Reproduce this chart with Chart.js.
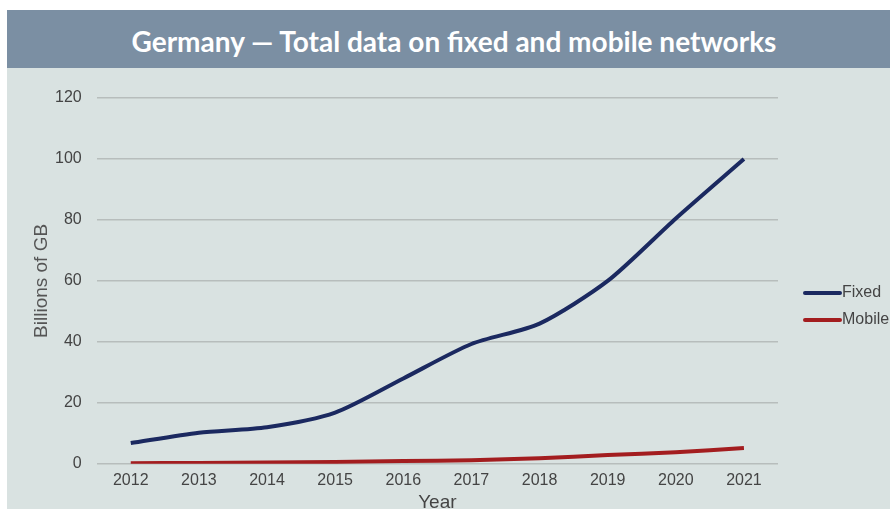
<!DOCTYPE html>
<html>
<head>
<meta charset="utf-8">
<script src="https://cdn.jsdelivr.net/npm/chart.js@4.4.0/dist/chart.umd.min.js"></script>
<style>
  html, body { margin: 0; padding: 0; width: 890px; height: 509px; overflow: hidden; background: #fff; }
  #banner {
    position: absolute; left: 7px; top: 10px; width: 883px; height: 58px;
    background: #7b8fa3; color: #fff; text-align: center; text-indent: 11px;
    font: bold 28px "Lato", "Open Sans", sans-serif; line-height: 62px;
  }
  #wrap { position: absolute; left: 7px; top: 68px; width: 883px; height: 441px; background: #d9e2e1; overflow: hidden; }
  #wrap canvas { position: absolute; left: 0; top: 0; }
</style>
</head>
<body>
<div id="banner">Germany — Total data on fixed and mobile networks</div>
<div id="wrap"><canvas id="chart" width="883" height="470"></canvas></div>
<script>
const years = ['2012', '2013', '2014', '2015', '2016', '2017', '2018', '2019', '2020', '2021']
const fixed = [6.8, 10.2, 12, 16.8, 28, 39.3, 46, 60, 80.5, 100]
const mobile = [0.2, 0.3, 0.4, 0.6, 0.9, 1.2, 1.8, 2.9, 3.8, 5.2]
const yTicks = [0, 20, 40, 60, 80, 100, 120]

const ctx = document.getElementById('chart').getContext('2d')

// legend drawn to the right of the plot, text runs off the edge like the original
const sideLegend = {
    id : 'sideLegend',
    afterDraw : chart => {
        const c = chart.ctx
        const x0 = chart.chartArea.right + 27
        let y = 225
        c.save()
        c.font = '16px "Liberation Sans"'
        c.textBaseline = 'middle'
        chart.data.datasets.forEach(ds => {
            c.strokeStyle = ds.borderColor
            c.lineWidth = 4
            c.lineCap = 'round'
            c.beginPath()
            c.moveTo(x0, y)
            c.lineTo(x0 + 35, y)
            c.stroke()
            c.fillStyle = '#444'
            c.fillText(ds.label, x0 + 37, y)
            y += 27
        })
        c.restore()
    }
}

const chart = new Chart(ctx, {
    type : 'line',
    data : {
        labels : years,
        datasets : [
            {
                label : 'Fixed',
                data : fixed,
                borderColor : '#1b2960',
                backgroundColor : '#1b2960',
                borderWidth : 4,
                pointRadius : 0,
                tension : 0.25
            },
            {
                label : 'Mobile',
                data : mobile,
                borderColor : '#a31d1f',
                backgroundColor : '#a31d1f',
                borderWidth : 4,
                pointRadius : 0,
                tension : 0.25
            }
        ]
    },
    options : {
        responsive : false,
        animation : false,
        layout : { padding : { left : 12, right : 112, top : 30, bottom : 26 } },
        plugins : {
            legend : { display : false },
            tooltip : { enabled : false }
        },
        scales : {
            x : {
                offset : true,
                grid : { display : false, drawTicks : false },
                border : { display : false },
                ticks : { color : '#444', padding : 7, font : { family : 'Liberation Sans', size : 16 } },
                title : { display : true, text : 'Year', color : '#444', padding : { top : -4, bottom : 0 }, font : { family : 'Liberation Sans', size : 19, lineHeight : 1 } }
            },
            y : {
                min : 0,
                max : 120,
                afterBuildTicks : axis => { axis.ticks = yTicks.map(v => ({ value : v })) },
                grid : { color : '#b7bdbc', lineWidth : 1.5, drawTicks : true, tickLength : 7, tickColor : 'transparent' },
                border : { display : false },
                ticks : { color : '#444', padding : 8, font : { family : 'Liberation Sans', size : 16 } },
                title : { display : true, text : 'Billions of GB', color : '#555', padding : { top : 13, bottom : -4 }, font : { family : 'Liberation Sans', size : 19, lineHeight : 1 } }
            }
        }
    },
    plugins : [sideLegend]
})
</script>
</body>
</html>
